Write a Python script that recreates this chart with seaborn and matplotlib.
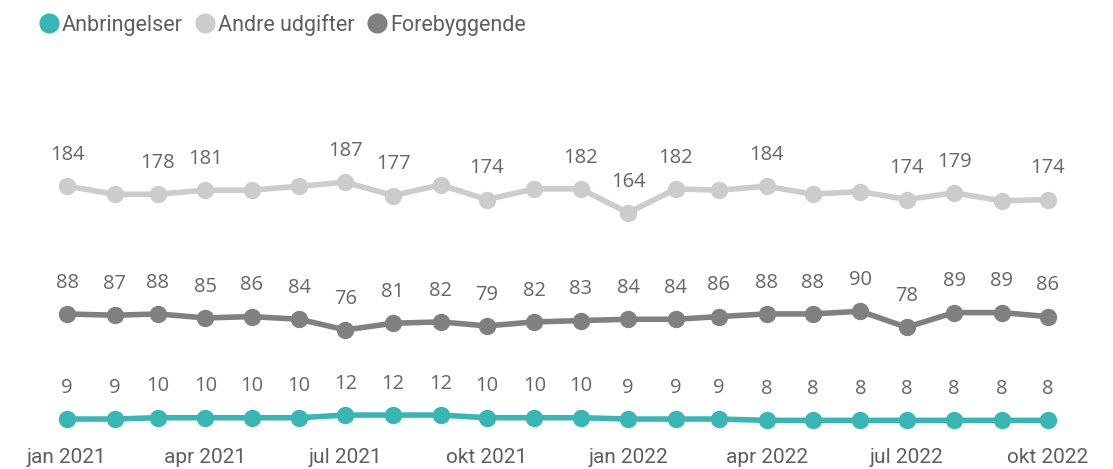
import datetime
import numpy as np
import pandas as pd
import seaborn as sns
import matplotlib
matplotlib.use("Agg")
import matplotlib.pyplot as plt
import matplotlib.dates as mdates
from matplotlib.lines import Line2D

# Data: monthly values jan 2021 - okt 2022
months = pd.date_range("2021-01-01", "2022-10-01", freq="MS")
anbringelser = [9, 9, 10, 10, 10, 10, 12, 12, 12, 10, 10, 10, 9, 9, 9, 8, 8, 8, 8, 8, 8, 8]
andre_udgifter = [184, 178, 178, 181, 181, 184, 187, 177, 185, 174, 182, 182,
                  164, 182, 181, 184, 178, 180, 174, 179, 173, 174]
forebyggende = [88, 87, 88, 85, 86, 84, 76, 81, 82, 79, 82, 83, 84, 84, 86, 88, 88, 90, 78, 89, 89, 86]
# which points of "Andre udgifter" carry a visible data label
andre_labelled = [0, 2, 3, 6, 7, 9, 11, 12, 13, 15, 18, 19, 21]
tick_dates = pd.to_datetime(["2021-01-01", "2021-04-01", "2021-07-01", "2021-10-01",
                             "2022-01-01", "2022-04-01", "2022-07-01", "2022-10-01"])
tick_labels = ["jan 2021", "apr 2021", "jul 2021", "okt 2021",
               "jan 2022", "apr 2022", "jul 2022", "okt 2022"]

series_names = ["Anbringelser", "Andre udgifter", "Forebyggende"]
colors = {"Anbringelser": "#37B6B3", "Andre udgifter": "#CCCCCC", "Forebyggende": "#808080"}

df = pd.DataFrame({
    "dato": list(months) * 3,
    "serie": np.repeat(series_names, len(months)),
    "value": anbringelser + andre_udgifter + forebyggende,
})

sns.set_style("white")
plt.rcParams["font.family"] = ["Roboto", "DejaVu Sans"]

fig = plt.figure(figsize=(11.13, 4.69), dpi=100)
ax = fig.add_axes([0, 0.081, 1, 0.834])

sns.lineplot(data=df, x="dato", y="value", hue="serie", palette=colors,
             hue_order=series_names, marker="o", markersize=12.5, markeredgewidth=0,
             linewidth=4, legend=False, ax=ax)

label_color = "#666666"
for name, vals in zip(series_names, [anbringelser, andre_udgifter, forebyggende]):
    for i, (d, v) in enumerate(zip(months, vals)):
        if name == "Andre udgifter" and i not in andre_labelled:
            continue
        ax.annotate(str(v), (d, v), xytext=(0, 22.5), textcoords="offset points",
                    ha="center", va="center", fontsize=14.5, color=label_color,
                    family=["Open Sans", "DejaVu Sans"])

start = mdates.date2num(datetime.datetime(2021, 1, 1))
end = mdates.date2num(datetime.datetime(2022, 10, 1))
ax.set_xlim(start - 43.6, end + 42.3)
ax.set_ylim(0, 294)
ax.set_xticks(tick_dates)
ax.set_xticklabels(tick_labels, fontsize=15, color="#605E5C")
ax.tick_params(axis="x", length=0, pad=12)
ax.set_yticks([])
ax.set_xlabel("")
ax.set_ylabel("")
for s in ax.spines.values():
    s.set_visible(False)

handles = [Line2D([], [], marker="o", linestyle="", markersize=14.5,
                  markerfacecolor=colors[n], markeredgewidth=0) for n in series_names]
fig.legend(handles, series_names, loc="upper left", bbox_to_anchor=(0.017, 1.012),
           ncol=3, frameon=False, handletextpad=0.1, columnspacing=0.55,
           handlelength=1.0, prop={"size": 15.5}, labelcolor="#605E5C")

fig.savefig("out.png", dpi=100)
